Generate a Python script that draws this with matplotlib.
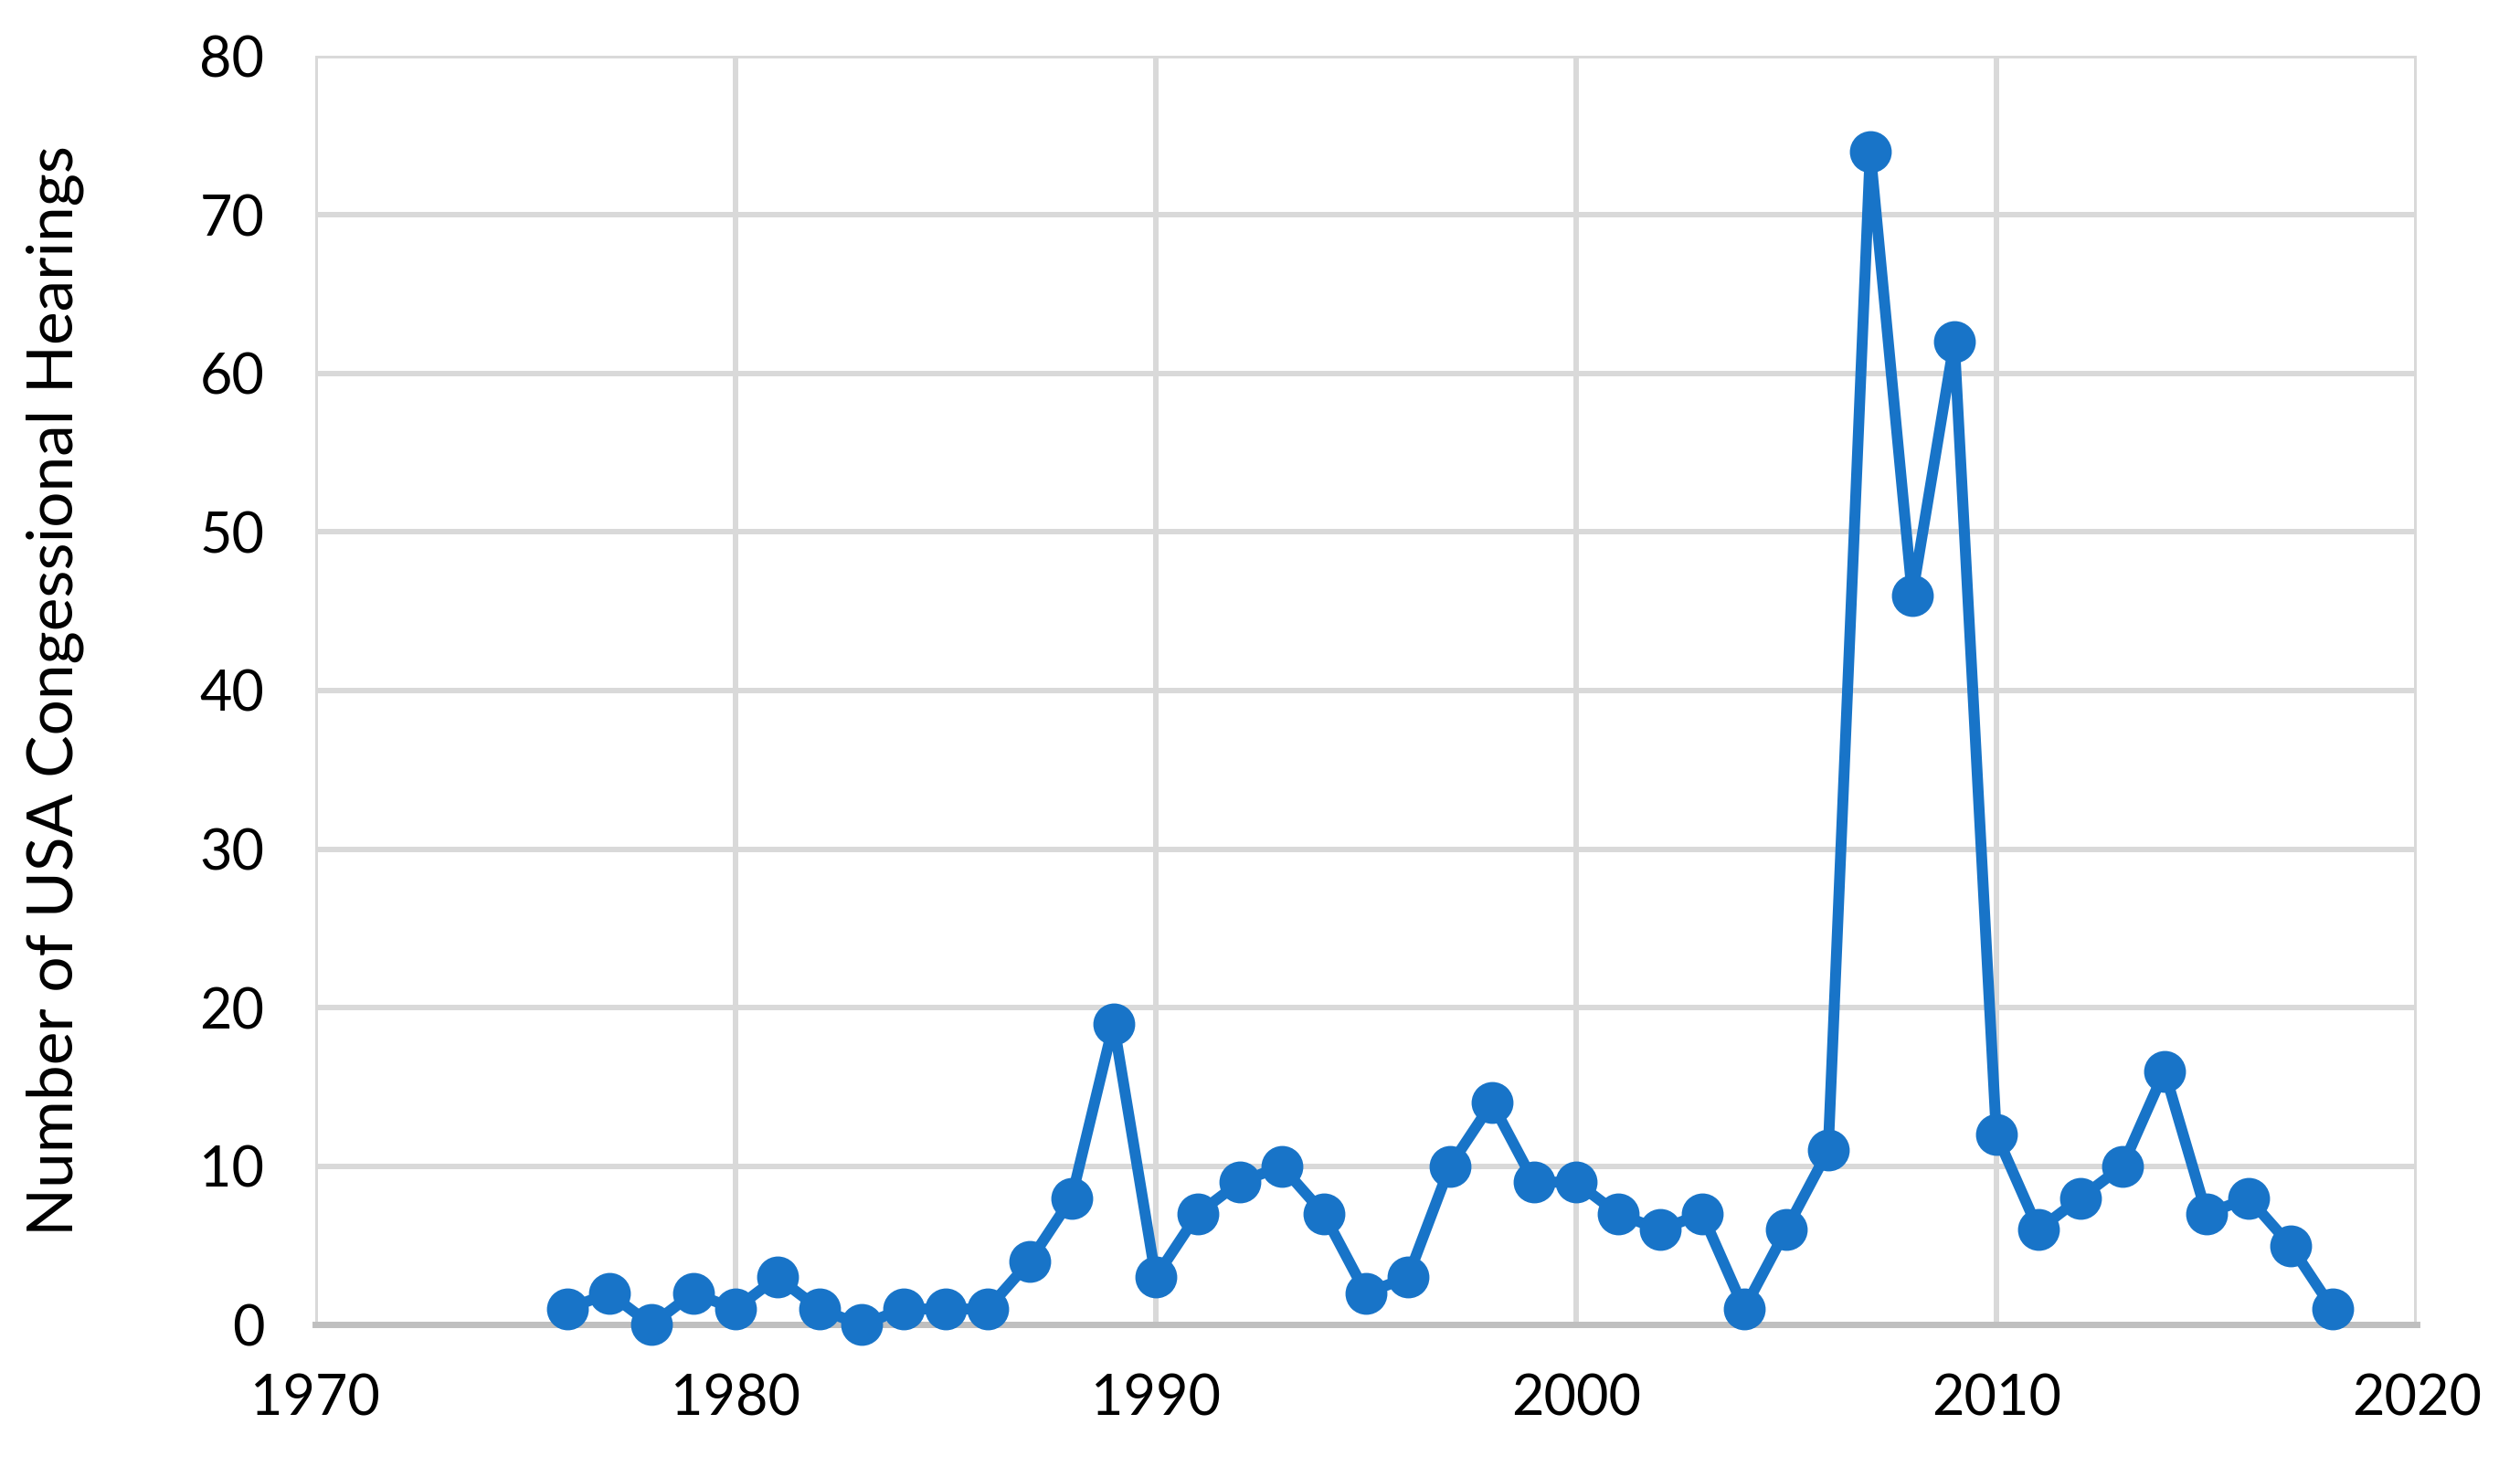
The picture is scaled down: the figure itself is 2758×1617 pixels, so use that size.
import matplotlib
matplotlib.use("Agg")
import matplotlib.pyplot as plt

plt.rcParams['font.family'] = ['Lato', 'DejaVu Sans']

years = list(range(1976, 2019))
hearings = [1, 2, 0, 2, 1, 3, 1, 0, 1, 1,
            1, 4, 8, 19, 3, 7, 9, 10, 7, 2,
            3, 10, 14, 9, 9, 7, 6, 7, 1, 6,
            11, 74, 46, 62, 12, 6, 8, 10, 16, 7,
            8, 5, 1]

fig = plt.figure(figsize=(27.58, 16.17), dpi=100)
ax = fig.add_axes([0.125, 0.103, 0.834, 0.859])

ax.plot(years, hearings, color='#1874C8', lw=8.6, marker='o', ms=32,
        solid_joinstyle='round', zorder=3, clip_on=False)

ax.set_xlim(1970, 2020)
ax.set_ylim(0, 80)
ax.set_xticks(range(1970, 2021, 10))
ax.set_yticks(range(0, 81, 10))
ax.grid(True, color='#D9D9D9', lw=4.3)
ax.set_axisbelow(True)
for s in ['top', 'right', 'left']:
    ax.spines[s].set_visible(False)
ax.spines['bottom'].set_color('#BFBFBF')
ax.spines['bottom'].set_linewidth(5)
ax.tick_params(length=0, labelsize=44)
ax.tick_params(axis='y', pad=40)
ax.tick_params(axis='x', pad=38)
ax.set_ylabel('Number of USA Congessional Hearings', fontsize=50)
ax.yaxis.set_label_coords(-0.110, 0.5)

fig.savefig('out.png', dpi=100, facecolor='white')
